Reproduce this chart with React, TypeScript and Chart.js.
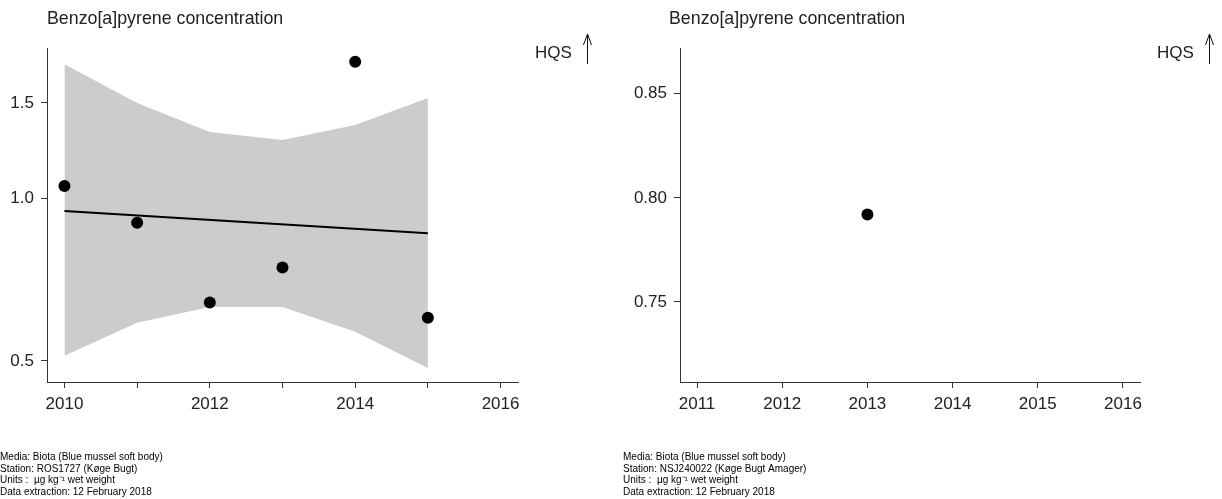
import React, { useEffect, useRef } from "react";
import { Chart, registerables } from "chart.js";

Chart.register(...registerables);

const TITLE = "Benzo[a]pyrene concentration";
const FONT = '"Liberation Sans", Arial, sans-serif';

// Left panel: ROS1727
const leftYears = [2010, 2011, 2012, 2013, 2014, 2015];
const leftValues = [1.053, 0.901, 0.641, 0.744, 1.788, 0.601];
const leftBandUpper = [1.77, 1.5, 1.325, 1.281, 1.366, 1.532];
const leftBandLower = [0.511, 0.588, 0.629, 0.629, 0.566, 0.485];
const leftTrendYears = [2010, 2015];
const leftTrendValues = [0.947, 0.861];
const leftXTicks = [2010, 2011, 2012, 2013, 2014, 2015, 2016];
const leftXLabels = ["2010", "", "2012", "", "2014", "", "2016"];
const leftYTicks = [0.5, 1.0, 1.5];
const leftYLabels = ["0.5", "1.0", "1.5"];
const leftFootnotes = [
  "Media: Biota (Blue mussel soft body)",
  "Station: ROS1727 (Køge Bugt)",
  "Units :  µg kg⁻¹ wet weight",
  "Data extraction: 12 February 2018",
];

// Right panel: NSJ240022
const rightYears = [2013];
const rightValues = [0.792];
const rightXTicks = [2011, 2012, 2013, 2014, 2015, 2016];
const rightXLabels = ["2011", "2012", "2013", "2014", "2015", "2016"];
const rightYTicks = [0.75, 0.8, 0.85];
const rightYLabels = ["0.75", "0.80", "0.85"];
const rightFootnotes = [
  "Media: Biota (Blue mussel soft body)",
  "Station: NSJ240022 (Køge Bugt Amager)",
  "Units :  µg kg⁻¹ wet weight",
  "Data extraction: 12 February 2018",
];

const panelText = {
  id: "panelText",
  afterDraw(chart: any, _args: any, opts: any) {
    const ctx = chart.ctx;
    const ca = chart.chartArea;
    ctx.save();
    ctx.fillStyle = "#222";
    ctx.textAlign = "left";
    ctx.textBaseline = "alphabetic";
    ctx.font = `17.8px ${FONT}`;
    ctx.fillText(opts.title, opts.titleX, 24);
    ctx.font = `17px ${FONT}`;
    ctx.fillText("HQS", ca.right + 17, 58);
    // arrow
    const ax = ca.right + 69;
    ctx.strokeStyle = "#111";
    ctx.lineWidth = 1;
    ctx.beginPath();
    ctx.moveTo(ax + 0.5, 64);
    ctx.lineTo(ax + 0.5, 34);
    ctx.moveTo(ax - 4 + 0.5, 45);
    ctx.lineTo(ax + 0.5, 34);
    ctx.lineTo(ax + 4 + 0.5, 45);
    ctx.stroke();
    // footnotes
    ctx.font = `10px ${FONT}`;
    ctx.fillStyle = "#000";
    opts.footnotes.forEach((line: string, i: number) => {
      ctx.fillText(line, opts.footX, 460 + i * 11.7);
    });
    ctx.restore();
  },
};

const axisGrid = {
  display: true,
  drawOnChartArea: false,
  drawTicks: true,
  tickLength: 6,
  color: "#333",
  lineWidth: 1,
};
const axisBorder = { display: true, color: "#333", width: 1 };
const tickFont = { family: FONT, size: 17 };

function makeConfig(kind: "left" | "right"): any {
  const isLeft = kind === "left";
  const pts = isLeft
    ? leftYears.map((x, i) => ({ x, y: leftValues[i] }))
    : rightYears.map((x, i) => ({ x, y: rightValues[i] }));
  const datasets: any[] = [
    {
      data: pts,
      showLine: false,
      pointStyle: "circle",
      pointRadius: 6,
      pointBackgroundColor: "#000",
      pointBorderWidth: 0,
      borderColor: "#000",
      order: 0,
    },
  ];
  if (isLeft) {
    datasets.push({
      data: leftTrendYears.map((x, i) => ({ x, y: leftTrendValues[i] })),
      borderColor: "#000",
      borderWidth: 2,
      pointRadius: 0,
      tension: 0,
      fill: false,
      order: 1,
    });
    datasets.push({
      data: leftYears.map((x, i) => ({ x, y: leftBandUpper[i] })),
      borderColor: "rgba(0,0,0,0)",
      borderWidth: 1,
      pointRadius: 0,
      backgroundColor: "#cccccc",
      fill: "+1",
      order: 2,
    });
    datasets.push({
      data: leftYears.map((x, i) => ({ x, y: leftBandLower[i] })),
      borderColor: "rgba(0,0,0,0)",
      borderWidth: 1,
      pointRadius: 0,
      fill: false,
      order: 3,
    });
  }
  const xTicks = isLeft ? leftXTicks : rightXTicks;
  const xLabels = isLeft ? leftXLabels : rightXLabels;
  const yTicks = isLeft ? leftYTicks : rightYTicks;
  const yLabels = isLeft ? leftYLabels : rightYLabels;
  return {
    type: "line",
    data: { datasets },
    plugins: [panelText],
    options: {
      responsive: false,
      animation: false,
      events: [],
      layout: {
        padding: { left: 0, top: 48, right: isLeft ? 93 : 82, bottom: 0 },
      },
      plugins: {
        legend: { display: false },
        tooltip: { enabled: false },
        title: { display: false },
        panelText: {
          title: TITLE,
          titleX: isLeft ? 47 : 58,
          footX: isLeft ? 0 : 12,
          footnotes: isLeft ? leftFootnotes : rightFootnotes,
        },
      },
      scales: {
        x: {
          type: "linear",
          min: isLeft ? 2009.76 : 2010.8,
          max: isLeft ? 2016.24 : 2016.2,
          afterFit: (s: any) => {
            s.height = 117;
          },
          afterBuildTicks: (s: any) => {
            s.ticks = xTicks.map((v) => ({ value: v }));
          },
          ticks: {
            autoSkip: false,
            maxRotation: 0,
            padding: 6,
            color: "#222",
            font: tickFont,
            callback: (_v: any, i: number) => xLabels[i],
          },
          grid: axisGrid,
          border: axisBorder,
        },
        y: {
          type: isLeft ? "logarithmic" : "linear",
          min: isLeft ? 0.457 : 0.7115,
          max: isLeft ? 1.896 : 0.872,
          afterFit: (s: any) => {
            s.width = isLeft ? 47 : 69;
          },
          afterBuildTicks: (s: any) => {
            s.ticks = yTicks.map((v) => ({ value: v }));
          },
          ticks: {
            autoSkip: false,
            padding: 7,
            color: "#222",
            font: tickFont,
            callback: (_v: any, i: number) => yLabels[i],
          },
          grid: axisGrid,
          border: axisBorder,
        },
      },
    },
  };
}

function Panel({ kind, left }: { kind: "left" | "right"; left: number }) {
  const ref = useRef<HTMLCanvasElement | null>(null);
  useEffect(() => {
    if (!ref.current) return;
    const chart = new Chart(ref.current, makeConfig(kind));
    return () => chart.destroy();
  }, [kind]);
  return (
    <div style={{ position: "absolute", left, top: 0, width: 611, height: 499 }}>
      <canvas ref={ref} width={611} height={499} style={{ display: "block" }} />
    </div>
  );
}

export default function App() {
  return (
    <div
      style={{
        position: "fixed",
        left: 0,
        top: 0,
        width: 1222,
        height: 499,
        background: "#fff",
      }}
    >
      <Panel kind="left" left={0} />
      <Panel kind="right" left={611} />
    </div>
  );
}
